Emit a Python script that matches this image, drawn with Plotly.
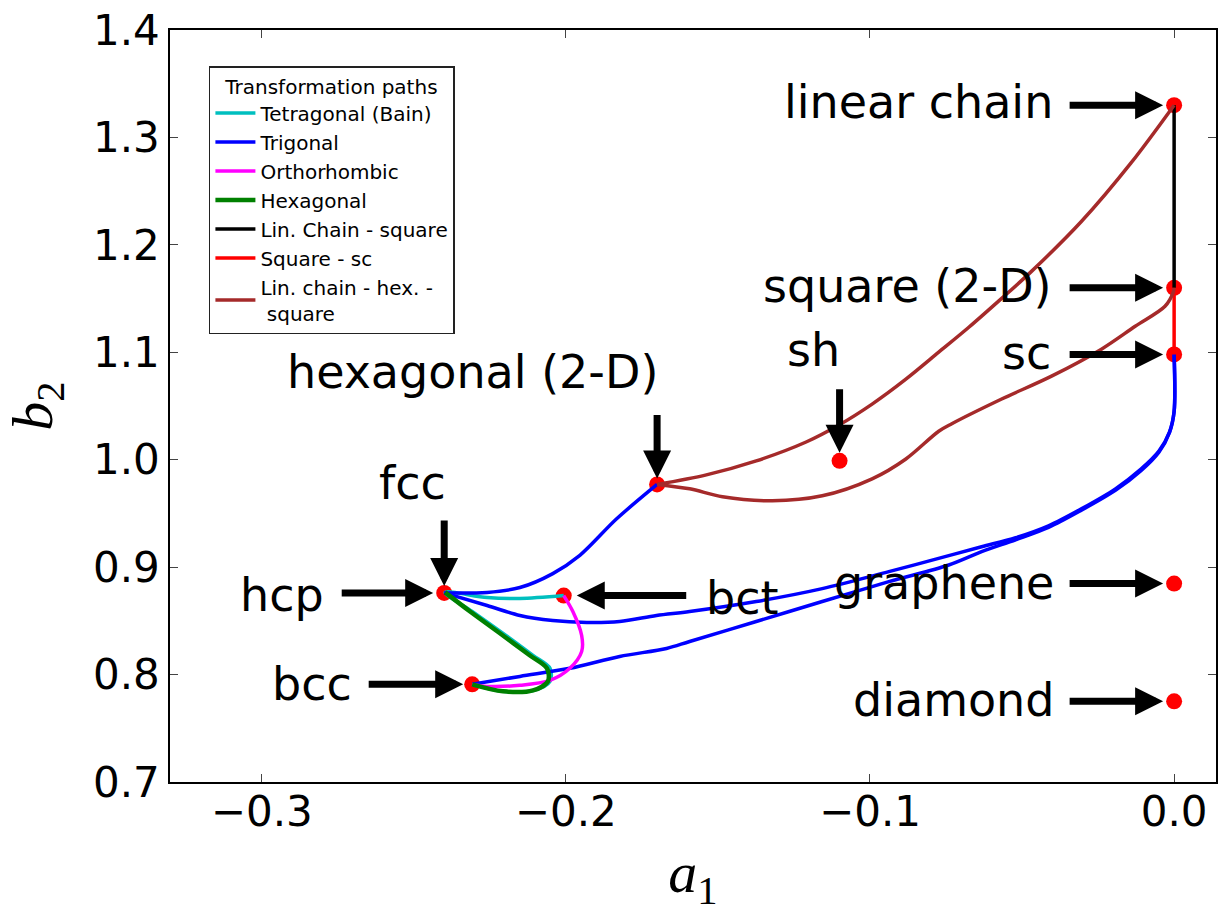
import plotly.graph_objects as go

# Named structures in the (a1, b2) plane
point_names = ["linear chain", "square (2-D)", "sc", "sh", "hexagonal (2-D)",
               "fcc", "bct", "bcc", "graphene", "diamond"]
point_a1 = [0.0, 0.0, 0.0, -0.110, -0.170, -0.240, -0.2007, -0.2308, 0.0, 0.0]
point_b2 = [1.330, 1.160, 1.098, 0.999, 0.977, 0.876, 0.8735, 0.7909, 0.8847, 0.7751]

# Tetragonal (Bain): bct -> fcc -> bcc
bain_a1 = [-0.2007, -0.2151, -0.2259, -0.2397, -0.2308, -0.2197, -0.2108, -0.2052,
           -0.2052, -0.2105, -0.2207, -0.2308]
bain_b2 = [0.8735, 0.8708, 0.8717, 0.8765, 0.8587, 0.8364, 0.8178, 0.8058,
           0.7937, 0.7853, 0.7844, 0.7909]

# Trigonal: fcc -> hexagonal (2-D)
trig1_a1 = [-0.2400, -0.2259, -0.2151, -0.2043, -0.1954, -0.1833, -0.1700]
trig1_b2 = [0.8760, 0.8765, 0.8810, 0.8940, 0.9110, 0.9450, 0.9770]

# Trigonal: fcc -> sc
trig2_a1 = [-0.2400, -0.2259, -0.2151, -0.2043, -0.1931, -0.1823, -0.1702, -0.1593,
            -0.1374, -0.1157, -0.0938, -0.0741, -0.0633, -0.0521, -0.0413, -0.0305,
            -0.0193, -0.0108, -0.0050, -0.0015, 0.0, 0.0]
trig2_b2 = [0.8760, 0.8643, 0.8550, 0.8503, 0.8485, 0.8494, 0.8550, 0.8587,
            0.8680, 0.8800, 0.8958, 0.9107, 0.9190, 0.9274, 0.9385, 0.9543,
            0.9729, 0.9915, 1.0080, 1.0260, 1.0450, 1.0980]

# Trigonal: bcc -> sc
trig3_a1 = [-0.2308, -0.2151, -0.1987, -0.1823, -0.1669, -0.1593, -0.1374, -0.1157,
            -0.0938, -0.0741, -0.0633, -0.0521, -0.0413, -0.0305, -0.0193, -0.0108,
            -0.0050, -0.0015, 0.0, 0.0]
trig3_b2 = [0.7909, 0.7983, 0.8058, 0.8169, 0.8243, 0.8308, 0.8494, 0.8680,
            0.8865, 0.9020, 0.9144, 0.9255, 0.9370, 0.9530, 0.9715, 0.9900,
            1.0070, 1.0255, 1.0450, 1.0980]

# Orthorhombic: bct -> bcc
ortho_a1 = [-0.2007, -0.1977, -0.1948, -0.1948, -0.1987, -0.2052, -0.2151, -0.2259, -0.2308]
ortho_b2 = [0.8735, 0.8587, 0.8364, 0.8215, 0.8058, 0.7946, 0.7900, 0.7890, 0.7909]

# Hexagonal: fcc/hcp -> bcc
hexa_a1 = [-0.2397, -0.2315, -0.2207, -0.2118, -0.2062, -0.2059, -0.2108, -0.2207, -0.2308]
hexa_b2 = [0.8765, 0.8587, 0.8364, 0.8178, 0.8058, 0.7937, 0.7853, 0.7844, 0.7909]

# Linear chain -> square (2-D)
chain_sq_a1 = [0.0, 0.0]
chain_sq_b2 = [1.330, 1.160]

# Square (2-D) -> sc
sq_sc_a1 = [0.0, 0.0]
sq_sc_b2 = [1.160, 1.098]

# Linear chain -> hexagonal (2-D) -> square (2-D)
lch_up_a1 = [-0.1700, -0.1538, -0.1374, -0.1210, -0.1102, -0.0993, -0.0882, -0.0774,
             -0.0675, -0.0567, -0.0469, -0.0305, -0.0141, 0.0]
lch_up_b2 = [0.9770, 0.9859, 0.9989, 1.0165, 1.0323, 1.0518, 1.0750, 1.1001,
             1.1233, 1.1502, 1.1753, 1.2217, 1.2765, 1.3300]
lch_lo_a1 = [-0.1700, -0.1593, -0.1485, -0.1321, -0.1157, -0.0993, -0.0882, -0.0774,
             -0.0731, -0.0567, -0.0403, -0.0239, -0.0128, -0.0030, -0.0003, 0.0]
lch_lo_b2 = [0.9770, 0.9729, 0.9655, 0.9618, 0.9664, 0.9822, 1.0007, 1.0265,
             1.0335, 1.0565, 1.0778, 1.1029, 1.1242, 1.1428, 1.1558, 1.1600]

x_ticks = [-0.3, -0.2, -0.1, 0.0]
x_tick_text = ["\u22120.3", "\u22120.2", "\u22120.1", "0.0"]
y_ticks = [0.7, 0.8, 0.9, 1.0, 1.1, 1.2, 1.3, 1.4]


def joined(*parts):
    """Concatenate several polylines, separated by gaps."""
    out = []
    for i, p in enumerate(parts):
        if i:
            out.append(None)
        out.extend(p)
    return out


fig = go.Figure()

# structure markers sit underneath the paths
fig.add_trace(go.Scatter(
    x=point_a1, y=point_b2, mode="markers", text=point_names,
    marker=dict(color="#ff0000", size=16), showlegend=False, hoverinfo="text"))

paths = [
    ("Tetragonal (Bain)", "#00bfbf", 3.5, bain_a1, bain_b2),
    ("Trigonal", "#0000ff", 3.5,
     joined(trig1_a1, trig2_a1, trig3_a1), joined(trig1_b2, trig2_b2, trig3_b2)),
    ("Orthorhombic", "#ff00ff", 3.5, ortho_a1, ortho_b2),
    ("Hexagonal", "#008000", 4.5, hexa_a1, hexa_b2),
    ("Lin. Chain - square", "#000000", 3.5, chain_sq_a1, chain_sq_b2),
    ("Square - sc", "#ff0000", 3.5, sq_sc_a1, sq_sc_b2),
    ("Lin. chain - hex. -<br> square", "#a52a2a", 3.5,
     joined(lch_up_a1, lch_lo_a1), joined(lch_up_b2, lch_lo_b2)),
]
for name, color, width, xs, ys in paths:
    fig.add_trace(go.Scatter(
        x=xs, y=ys, mode="lines", name=name,
        line=dict(color=color, width=width, shape="spline", smoothing=0.9),
        connectgaps=False))

label_font = dict(family="DejaVu Sans", size=46, color="black")

# text labels: (text, index of point, xanchor, xshift, yshift)
labels = [
    ("linear chain", 0, "right", -119, 3),
    ("square (2-D)", 1, "right", -120, 2),
    ("sc", 2, "right", -121, 1),
    ("graphene", 8, "right", -118, 1),
    ("diamond", 9, "right", -118, 1),
    ("hcp", 5, "right", -118, -2),
    ("bcc", 7, "right", -118, 0),
    ("bct", 6, "left", 140, -2),
    ("fcc", 5, "center", -32, 110),
    ("hexagonal (2-D)", 4, "center", -185, 112),
    ("sh", 3, "center", -26, 111),
]
annotations = []
for text, idx, xa, xs, ys in labels:
    annotations.append(dict(
        x=point_a1[idx], y=point_b2[idx], xref="x", yref="y", text=text,
        showarrow=False, xanchor=xa, yanchor="middle", xshift=xs, yshift=ys,
        font=label_font))

# arrows: (index of point, tail dx px, tail dy px, standoff px)
arrows = [
    (0, -106, 0, 11), (1, -106, 0, 11), (2, -106, 0, 11), (8, -106, 0, 11),
    (9, -106, 0, 11), (5, -104, 0, 11), (7, -105, 0, 9), (6, 124, 0, 13),
    (5, 0, -74, 7), (4, 0, -71, 6), (3, 0, -73, 8),
]
for idx, dx, dy, so in arrows:
    annotations.append(dict(
        x=point_a1[idx], y=point_b2[idx], xref="x", yref="y", text="",
        showarrow=True, ax=dx, ay=dy, axref="pixel", ayref="pixel",
        arrowhead=2, arrowsize=0.8, arrowwidth=7, arrowcolor="black",
        standoff=so))

tick_font = dict(family="DejaVu Sans", size=42, color="black")
axis_common = dict(
    showline=True, linecolor="black", linewidth=1.5, mirror="allticks",
    ticks="inside", ticklen=8, tickwidth=1, tickcolor="#444",
    showgrid=False, zeroline=False, tickfont=tick_font)

fig.update_layout(
    width=1218, height=913,
    margin=dict(l=170, r=0, t=30, b=130),
    paper_bgcolor="white", plot_bgcolor="white",
    xaxis=dict(range=[-0.33016, 0.01377], tickvals=x_ticks, ticktext=x_tick_text,
               ticklabelstandoff=-8,
               title=dict(text="<i>a</i><sub>1</sub>", standoff=36,
                          font=dict(family="Liberation Serif", size=58, color="black")),
               **axis_common),
    yaxis=dict(range=[0.7, 1.4], tickvals=y_ticks, tickformat=".1f",
               ticklabelstandoff=0,
               title=dict(text="<i>b</i><sub>2</sub>", standoff=22,
                          font=dict(family="Liberation Serif", size=58, color="black")),
               **axis_common),
    legend=dict(
        x=0.0372, y=0.952, xanchor="left", yanchor="top",
        bgcolor="white", bordercolor="#222", borderwidth=1.5,
        font=dict(family="DejaVu Sans", size=20, color="black"),
        title=dict(text="Transformation paths", side="top center",
                   font=dict(family="DejaVu Sans", size=20, color="black")),
        itemwidth=40, tracegroupgap=0),
    annotations=annotations,
    showlegend=True,
)

fig.write_html("out.html")
